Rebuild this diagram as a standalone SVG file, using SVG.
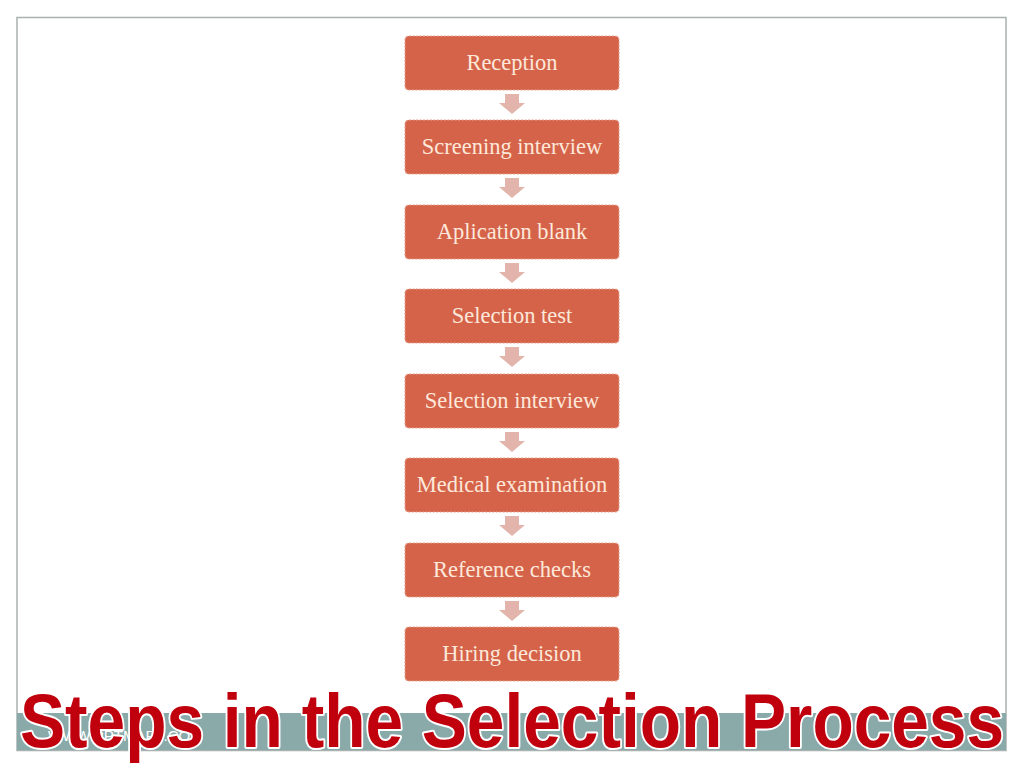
<svg xmlns="http://www.w3.org/2000/svg" width="1024" height="768" viewBox="0 0 1024 768">
<defs>
<style>
.box{fill:#d4634a;stroke:#e8a08c;stroke-width:1.2;stroke-dasharray:2 1.5}
.lbl{font-family:"Liberation Serif","DejaVu Serif",serif;font-size:22.5px;fill:#fde8da;text-anchor:middle}
.arr{fill:#e2b4ac}
.title{font-family:"Liberation Sans",Arial,sans-serif;font-weight:bold;font-size:76px;fill:#c0000c;stroke:#ffffff;stroke-width:4;paint-order:stroke;stroke-linejoin:round}
</style>
<path id="ar" d="M-7,0 H7 V9 H13 L0,20 L-13,9 H-7 Z"/>
</defs>
<rect width="1024" height="768" fill="#ffffff"/>
<rect x="17" y="17.5" width="989" height="733" fill="#ffffff" stroke="#a9b1b1" stroke-width="1.5"/>
<rect x="17" y="713" width="989" height="37" fill="#8aaaaa"/>
<g id="connectors">
<use href="#ar" class="arr" x="512" y="94"/>
<use href="#ar" class="arr" x="512" y="178"/>
<use href="#ar" class="arr" x="512" y="263"/>
<use href="#ar" class="arr" x="512" y="347"/>
<use href="#ar" class="arr" x="512" y="432"/>
<use href="#ar" class="arr" x="512" y="516"/>
<use href="#ar" class="arr" x="512" y="601"/>
</g>
<g id="n1"><rect class="box" x="405" y="36" width="214" height="54" rx="4"/><text class="lbl" x="512" y="70">Reception</text></g>
<g id="n2"><rect class="box" x="405" y="120" width="214" height="54" rx="4"/><text class="lbl" x="512" y="154">Screening interview</text></g>
<g id="n3"><rect class="box" x="405" y="205" width="214" height="54" rx="4"/><text class="lbl" x="512" y="239">Aplication blank</text></g>
<g id="n4"><rect class="box" x="405" y="289" width="214" height="54" rx="4"/><text class="lbl" x="512" y="323">Selection test</text></g>
<g id="n5"><rect class="box" x="405" y="374" width="214" height="54" rx="4"/><text class="lbl" x="512" y="408">Selection interview</text></g>
<g id="n6"><rect class="box" x="405" y="458" width="214" height="54" rx="4"/><text class="lbl" x="512" y="492">Medical examination</text></g>
<g id="n7"><rect class="box" x="405" y="543" width="214" height="54" rx="4"/><text class="lbl" x="512" y="577">Reference checks</text></g>
<g id="n8"><rect class="box" x="405" y="627" width="214" height="54" rx="4"/><text class="lbl" x="512" y="661">Hiring decision</text></g>
<text x="48" y="741" font-family="'Liberation Sans',Arial,sans-serif" font-size="15" fill="#ffffff">WWW.PPTMART.COM</text>
<text class="title" x="20" y="747" textLength="984" lengthAdjust="spacingAndGlyphs">Steps in the Selection Process</text>
</svg>
